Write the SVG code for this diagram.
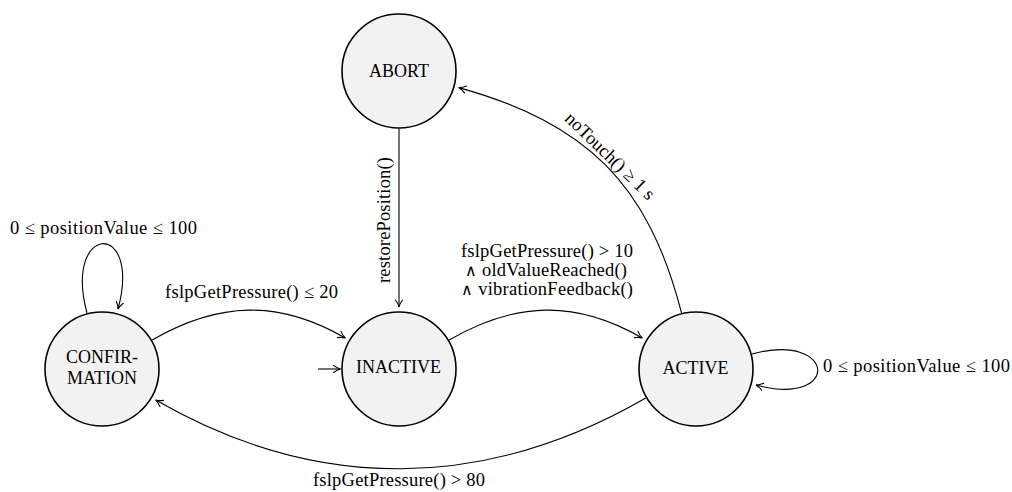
<svg xmlns="http://www.w3.org/2000/svg" width="1012" height="492" viewBox="0 0 1012 492">
<style>
.state circle { fill: #f2f2f2; stroke: #000; stroke-width: 1.6; }
.state text { font-family: "Liberation Serif", "DejaVu Serif", serif; font-size: 18px; fill: #000; text-anchor: middle; }
.edge { fill: none; stroke: #000; stroke-width: 1.1; marker-end: url(#arr); }
.lbl { font-family: "Liberation Serif", "DejaVu Serif", serif; font-size: 18.5px; fill: #000; text-anchor: middle; }
.op { font-family: "DejaVu Sans", sans-serif; font-weight: 200; font-size: 16px; }
</style>
<defs>
<marker id="arr" viewBox="-9 -5 10 10" refX="0" refY="0" markerWidth="10" markerHeight="10" markerUnits="userSpaceOnUse" orient="auto">
<path d="M-7,-3.6 C-4.5,-1.6 -1.8,-0.4 0,0 C-1.8,0.4 -4.5,1.6 -7,3.6" fill="none" stroke="#000" stroke-width="1.1" stroke-linecap="round"/>
</marker>
</defs>
<rect width="1012" height="492" fill="#fff"/>
<g id="connectors">
<path class="edge" d="M399,128.5 L399,307"/>
<path class="edge" d="M318,369 L340.5,369"/>
<path class="edge" d="M152.2,340 C218.9,301.5 278.6,299.5 345.3,338"/>
<path class="edge" d="M449.2,340 C515.9,301.5 575.6,299.5 642.3,338"/>
<path class="edge" d="M645.8,398 C484.7,491 316.8,493 155.7,400"/>
<path class="edge" d="M681.5,312.8 C648.2,184 586.9,123.1 458.7,87.6"/>
<path class="edge" d="M87,313 C62.9,223.2 142.1,219.3 118,309.1"/>
<path class="edge" d="M752,354 C837,331.2 840.9,407.8 755.9,385"/>
<text class="lbl" transform="translate(390,220) rotate(-90)" x="0" y="0" textLength="126" lengthAdjust="spacing">restorePosition()</text>
<text class="lbl" x="251.5" y="298" textLength="173" lengthAdjust="spacing">fslpGetPressure() ≤ 20</text>
<text class="lbl" x="547" y="257" textLength="172" lengthAdjust="spacing">fslpGetPressure() &gt; 10</text>
<text class="lbl" x="546" y="276" textLength="162" lengthAdjust="spacing"><tspan class="op">∧</tspan> oldValueReached()</text>
<text class="lbl" x="547" y="295" textLength="172" lengthAdjust="spacing"><tspan class="op">∧</tspan> vibrationFeedback()</text>
<text class="lbl" x="399" y="486" textLength="172" lengthAdjust="spacing">fslpGetPressure() &gt; 80</text>
<text class="lbl" x="103.5" y="234" textLength="187" lengthAdjust="spacing">0 ≤ positionValue ≤ 100</text>
<text class="lbl" x="916.5" y="372" textLength="187" lengthAdjust="spacing">0 ≤ positionValue ≤ 100</text>
<text class="lbl" transform="translate(610,156) rotate(44)" x="0" y="6" textLength="117" lengthAdjust="spacing">noTouch() ≥ 1 s</text>
</g>
<g id="abort" class="state"><circle cx="399" cy="71" r="57"/><text x="399" y="77">ABORT</text></g>
<g id="inactive" class="state"><circle cx="399" cy="369" r="57"/><text x="398.5" y="373">INACTIVE</text></g>
<g id="active" class="state"><circle cx="696" cy="369" r="57"/><text x="695.5" y="374">ACTIVE</text></g>
<g id="confirmation" class="state"><circle cx="102" cy="369" r="57"/><text x="102" y="363">CONFIR-</text><text x="102" y="384">MATION</text></g>
</svg>
